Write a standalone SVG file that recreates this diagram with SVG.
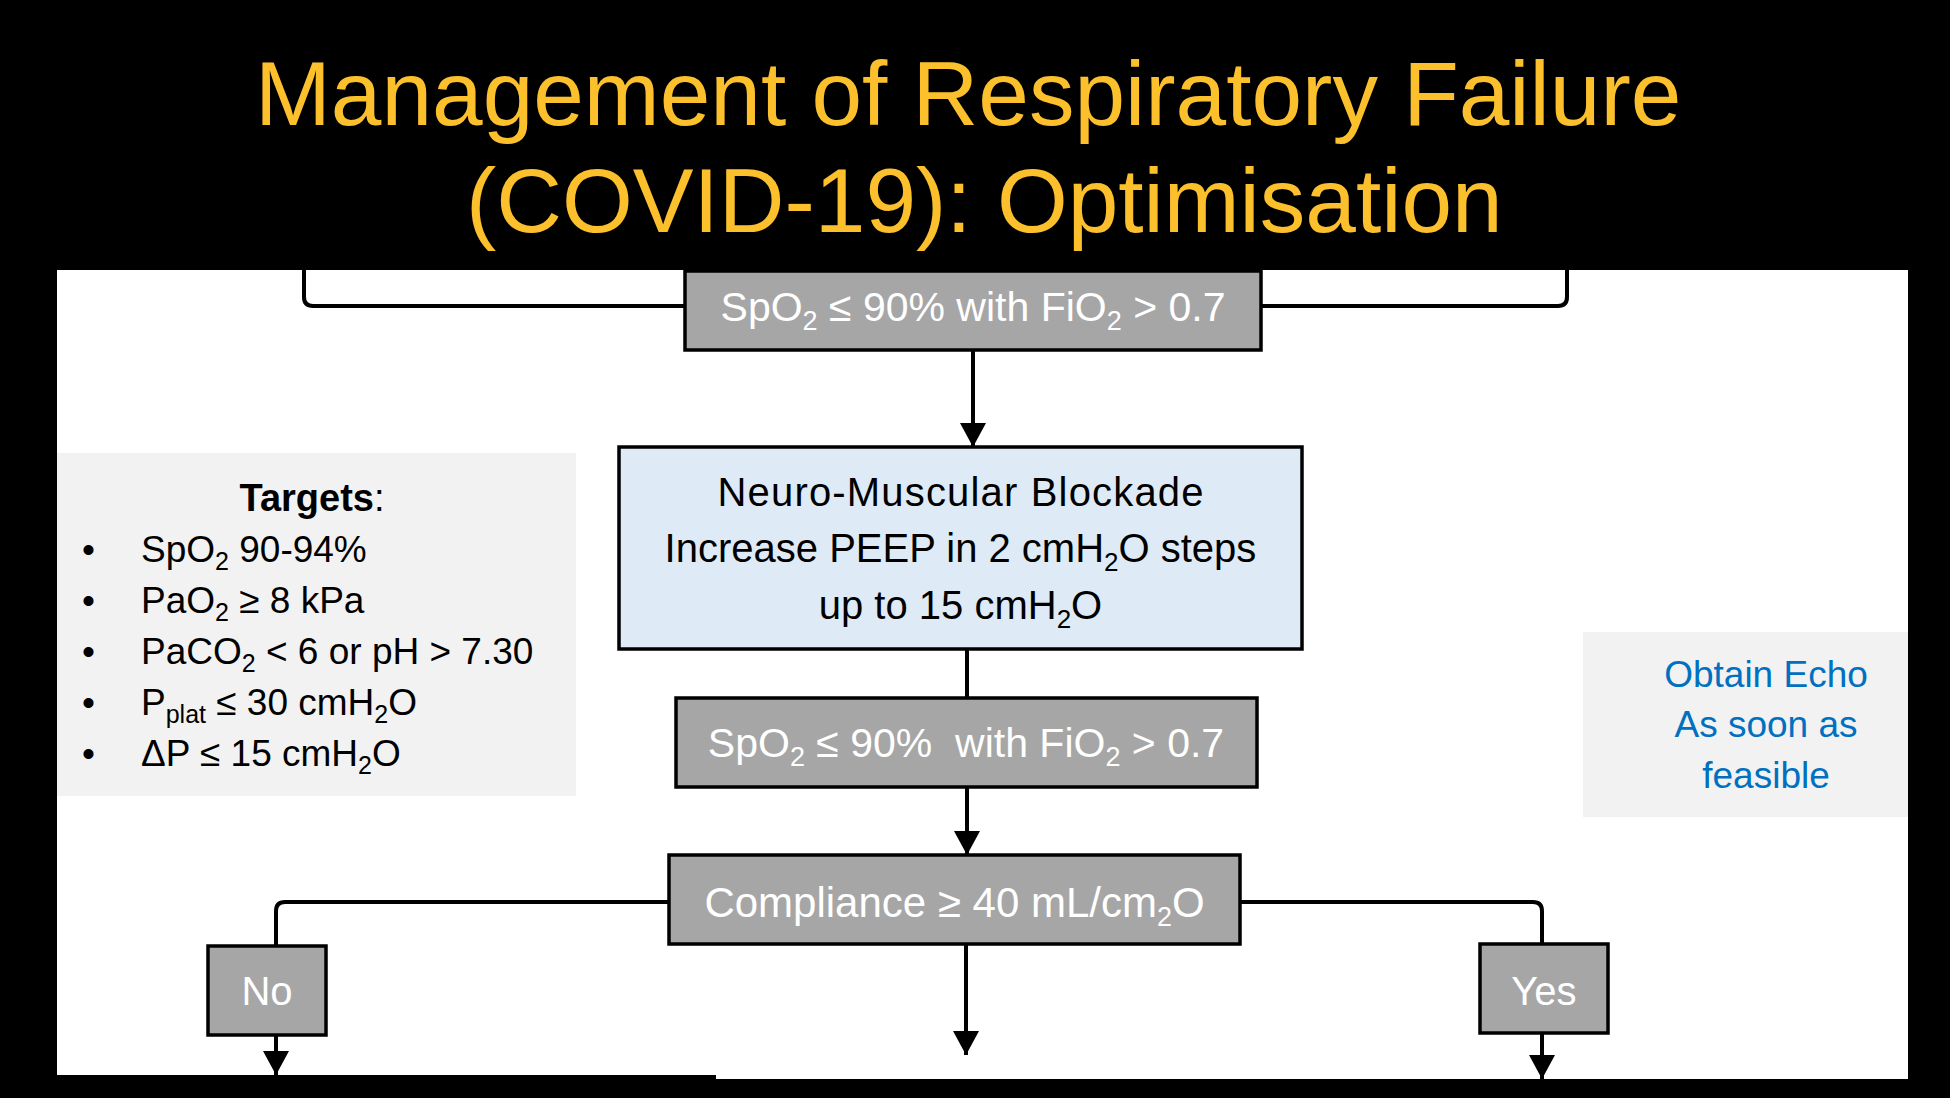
<svg xmlns="http://www.w3.org/2000/svg" width="1950" height="1098" viewBox="0 0 1950 1098">
<defs>
<style>
.t{font-family:"Liberation Sans",Arial,sans-serif}
.title{font-family:"Liberation Sans",Arial,sans-serif;font-size:91px;fill:#FCC02D}
.grey{fill:#A6A6A6;stroke:#000;stroke-width:3.5}
.blue{fill:#DEEBF7;stroke:#000;stroke-width:3.5}
.panel{fill:#F2F2F2}
.wt{fill:#FFFFFF;text-anchor:middle}
.bk{fill:#000000}
.echo{fill:#0070C0;text-anchor:middle}
.conn{fill:none;stroke:#000;stroke-width:4}
</style>
<marker id="arr" markerUnits="userSpaceOnUse" markerWidth="26" markerHeight="26" refX="24" refY="13" orient="auto" viewBox="0 0 26 26">
<path d="M0,0 L24,13 L0,26 z" fill="#000"/>
</marker>
</defs>
<rect x="0" y="0" width="1950" height="1098" fill="#000"/>
<rect x="57" y="270" width="1851" height="805" fill="#fff"/>
<rect x="716" y="1075" width="1192" height="4" fill="#fff"/>
<g id="title">
<text class="title" x="255" y="125">Management of Respiratory Failure</text>
<text class="title" x="466" y="232">(COVID-19): Optimisation</text>
</g>
<g id="connectors">
<path class="conn" d="M685 306 H313 Q304 306 304 297 V268"/>
<path class="conn" d="M1261 306 H1558 Q1567 306 1567 297 V268"/>
<path class="conn" d="M973 350 V447" marker-end="url(#arr)"/>
<path class="conn" d="M967 649 V698"/>
<path class="conn" d="M967 787 V855" marker-end="url(#arr)"/>
<path class="conn" d="M669 902 H285 Q276 902 276 911 V946"/>
<path class="conn" d="M1240 902 H1533 Q1542 902 1542 911 V944"/>
<path class="conn" d="M966 944 V1055" marker-end="url(#arr)"/>
<path class="conn" d="M276 1035 V1075" marker-end="url(#arr)"/>
<path class="conn" d="M1542 1033 V1079" marker-end="url(#arr)"/>
</g>
<g id="spo2-top">
<rect class="grey" x="685" y="271" width="576" height="79"/>
<text class="t wt" x="973" y="321" font-size="41">SpO<tspan dy="9" font-size="27">2</tspan><tspan dy="-9"> ≤ 90% with FiO</tspan><tspan dy="9" font-size="27">2</tspan><tspan dy="-9"> &gt; 0.7</tspan></text>
</g>
<g id="targets">
<rect class="panel" x="57" y="453" width="519" height="343"/>
<text class="t bk" x="312" y="511" font-size="38" text-anchor="middle"><tspan font-weight="bold">Targets</tspan>:</text>
<g class="t bk" font-size="37">
<text x="82" y="562">•</text>
<text x="141" y="562">SpO<tspan dy="8" font-size="25">2</tspan><tspan dy="-8"> 90-94%</tspan></text>
<text x="82" y="613">•</text>
<text x="141" y="613">PaO<tspan dy="8" font-size="25">2</tspan><tspan dy="-8"> ≥ 8 kPa</tspan></text>
<text x="82" y="664">•</text>
<text x="141" y="664">PaCO<tspan dy="8" font-size="25">2</tspan><tspan dy="-8"> &lt; 6 or pH &gt; 7.30</tspan></text>
<text x="82" y="715">•</text>
<text x="141" y="715">P<tspan dy="8" font-size="25">plat</tspan><tspan dy="-8"> ≤ 30 cmH</tspan><tspan dy="8" font-size="25">2</tspan><tspan dy="-8">O</tspan></text>
<text x="82" y="766">•</text>
<text x="141" y="766">ΔP ≤ 15 cmH<tspan dy="8" font-size="25">2</tspan><tspan dy="-8">O</tspan></text>
</g>
</g>
<g id="nmb">
<rect class="blue" x="619" y="447" width="683" height="202"/>
<g class="t bk" font-size="40" text-anchor="middle">
<text x="960.5" y="506" textLength="486" lengthAdjust="spacing">Neuro-Muscular Blockade</text>
<text x="960.5" y="562">Increase PEEP in 2 cmH<tspan dy="9" font-size="26">2</tspan><tspan dy="-9">O steps</tspan></text>
<text x="960.5" y="619">up to 15 cmH<tspan dy="9" font-size="26">2</tspan><tspan dy="-9">O</tspan></text>
</g>
</g>
<g id="spo2-second">
<rect class="grey" x="676" y="698" width="581" height="89"/>
<text class="t wt" x="966" y="757" font-size="41">SpO<tspan dy="9" font-size="27">2</tspan><tspan dy="-9"> ≤ 90%&#160; with FiO</tspan><tspan dy="9" font-size="27">2</tspan><tspan dy="-9"> &gt; 0.7</tspan></text>
</g>
<g id="echo">
<rect class="panel" x="1583" y="632" width="325" height="185"/>
<g class="t echo" font-size="37">
<text x="1766" y="687">Obtain Echo</text>
<text x="1766" y="737">As soon as</text>
<text x="1766" y="788">feasible</text>
</g>
</g>
<g id="compliance">
<rect class="grey" x="669" y="855" width="571" height="89"/>
<text class="t wt" x="954.5" y="917" font-size="42">Compliance ≥ 40 mL/cm<tspan dy="9" font-size="27">2</tspan><tspan dy="-9">O</tspan></text>
</g>
<g id="no">
<rect class="grey" x="208" y="946" width="118" height="89"/>
<text class="t wt" x="267" y="1005" font-size="40">No</text>
</g>
<g id="yes">
<rect class="grey" x="1480" y="944" width="128" height="89"/>
<text class="t wt" x="1544" y="1005" font-size="40">Yes</text>
</g>
</svg>
